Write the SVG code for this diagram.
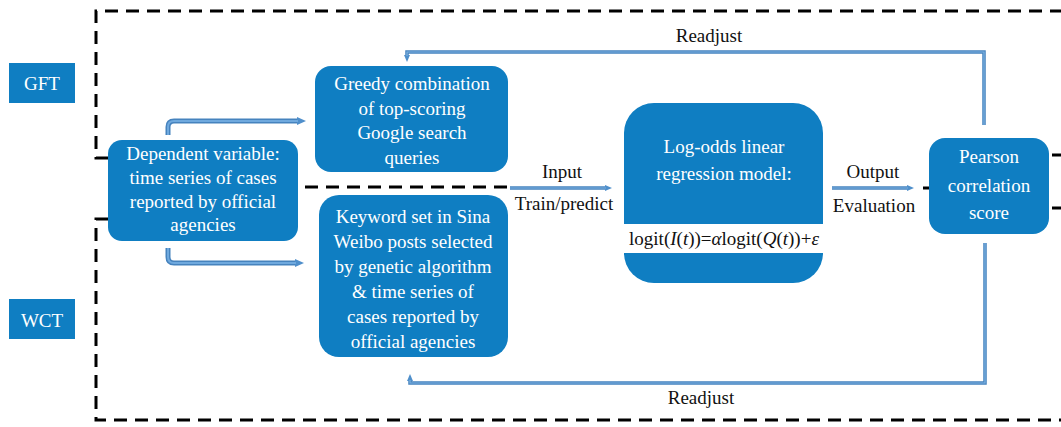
<svg xmlns="http://www.w3.org/2000/svg" width="1061" height="427" viewBox="0 0 1061 427">
<style>
.box{fill:#0F7EC2;}
.wt{fill:#ffffff;font-family:"Liberation Serif","Times New Roman",serif;font-size:19px;text-anchor:middle;}
.bt{fill:#111111;font-family:"Liberation Serif","Times New Roman",serif;font-size:19px;text-anchor:middle;}
.dash{fill:none;stroke:#000000;stroke-width:3;stroke-dasharray:13 8;}
.solid{fill:none;stroke:#000000;stroke-width:3;}
.arO{fill:none;stroke:#4683BE;stroke-width:5;stroke-linejoin:round;}
.arI{fill:none;stroke:#6FA9DE;stroke-width:2;stroke-linejoin:round;}
.thO{fill:none;stroke:#4683BE;stroke-width:3.5;}
.thI{fill:none;stroke:#7DB2E2;stroke-width:1.2;}
</style>
<defs>
<marker id="ah" markerUnits="userSpaceOnUse" markerWidth="10" markerHeight="10" refX="1" refY="5" orient="auto">
<path d="M0,1 L9,5 L0,9 z" fill="#4F8FCB"/>
</marker>
<marker id="ahs" markerUnits="userSpaceOnUse" markerWidth="8" markerHeight="8" refX="1" refY="4" orient="auto">
<path d="M0,1 L7,4 L0,7 z" fill="#4F8FCB"/>
</marker>
</defs>

<g id="boundaries">
<path class="dash" d="M108,158 H96 V11 H1061"/>
<path class="dash" d="M108,219 H96 V420 H1061"/>
<path class="dash" d="M305,187 H510"/>
<path class="solid" d="M923,188 H932"/>
<path class="solid" d="M1052,155 H1061"/>
<path class="solid" d="M1052,208 H1061"/>
</g>

<g id="connectors">
<path class="arO" d="M168,135 V127 Q168,121 174,121 H298" marker-end="url(#ah)"/>
<path class="arI" d="M168,135 V127 Q168,121 174,121 H298"/>
<path class="arO" d="M168,248 V257 Q168,263 174,263 H296" marker-end="url(#ah)"/>
<path class="arI" d="M168,248 V257 Q168,263 174,263 H296"/>
<path class="thO" d="M510,188 H606" marker-end="url(#ahs)"/>
<path class="thI" d="M510,188 H606"/>
<path class="thO" d="M832,188 H908" marker-end="url(#ahs)"/>
<path class="thI" d="M832,188 H908"/>
<path class="thO" d="M984,125 V52 H407 V56" marker-end="url(#ahs)"/>
<path class="thI" d="M984,125 V52 H407 V56"/>
<path class="thO" d="M985,243 V383 H410 V380" marker-end="url(#ahs)"/>
<path class="thI" d="M985,243 V383 H410 V380"/>
<text class="bt" x="709" y="42">Readjust</text>
<text class="bt" x="701" y="404">Readjust</text>
<text class="bt" x="562" y="178">Input</text>
<text class="bt" x="564" y="210">Train/predict</text>
<text class="bt" x="873" y="178">Output</text>
<text class="bt" x="874" y="212">Evaluation</text>
</g>

<g id="gft">
<rect class="box" x="9" y="63" width="66" height="40"/>
<text class="wt" x="42" y="90">GFT</text>
</g>

<g id="wct">
<rect class="box" x="9" y="299" width="66" height="40"/>
<text class="wt" x="42" y="327">WCT</text>
</g>

<g id="dependent">
<rect class="box" x="108" y="140" width="190" height="101" rx="14"/>
<text class="wt" x="203" y="160">Dependent variable:</text>
<text class="wt" x="203" y="184">time series of cases</text>
<text class="wt" x="203" y="208">reported by official</text>
<text class="wt" x="203" y="231">agencies</text>
</g>

<g id="greedy">
<rect class="box" x="315" y="66" width="193" height="106" rx="16"/>
<text class="wt" x="412" y="90">Greedy combination</text>
<text class="wt" x="412" y="115">of top-scoring</text>
<text class="wt" x="412" y="139">Google search</text>
<text class="wt" x="412" y="164">queries</text>
</g>

<g id="keyword">
<rect class="box" x="319" y="195" width="189" height="162" rx="20"/>
<text class="wt" x="413" y="223">Keyword set in Sina</text>
<text class="wt" x="413" y="248">Weibo posts selected</text>
<text class="wt" x="413" y="273">by genetic algorithm</text>
<text class="wt" x="413" y="298">&amp; time series of</text>
<text class="wt" x="413" y="323">cases reported by</text>
<text class="wt" x="413" y="348">official agencies</text>
</g>

<g id="model">
<rect class="box" x="624" y="103" width="199" height="180" rx="30"/>
<rect x="624" y="224" width="199" height="29" fill="#ffffff"/>
<text class="wt" x="724" y="153">Log-odds linear</text>
<text class="wt" x="724" y="180">regression model:</text>
<text class="bt" x="724" y="245">logit(<tspan font-style="italic">I</tspan>(<tspan font-style="italic">t</tspan>))=<tspan font-style="italic">α</tspan>logit(<tspan font-style="italic">Q</tspan>(<tspan font-style="italic">t</tspan>))+<tspan font-style="italic">ε</tspan></text>
</g>

<g id="pearson">
<rect class="box" x="929" y="138" width="120" height="96" rx="16"/>
<text class="wt" x="989" y="163">Pearson</text>
<text class="wt" x="989" y="192">correlation</text>
<text class="wt" x="989" y="219">score</text>
</g>
</svg>
